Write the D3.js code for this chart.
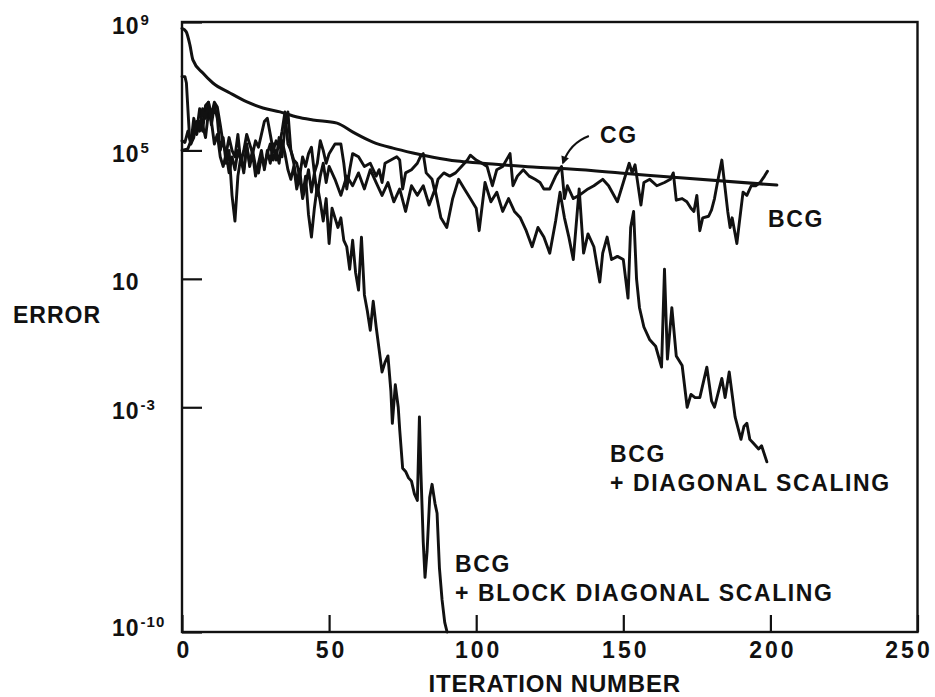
<!DOCTYPE html>
<html>
<head>
<meta charset="utf-8">
<script src="https://cdn.jsdelivr.net/npm/d3@7/dist/d3.min.js"></script>
<style>
  html, body { margin: 0; padding: 0; background: #fff; }
  svg { display: block; }
  text { font-family: "Liberation Sans", Arial, Helvetica, sans-serif; font-weight: bold; fill: #111; }
</style>
</head>
<body>
<svg id="chart" width="935" height="697"></svg>
<script>
// ---- data (iteration, log10 of error) ----
const xTickValues = [0, 50, 100, 150, 200, 250];
const yTickExponents = [9, 5, 1, -3, -10];
const yTickSup = ["9", "5", "", "-3", "-10"];

const cgPoints = [[0,8.8],[1.4,8.7],[2.7,8.28],[3.7,7.82],[7.1,7.41],[10.5,7.1],[16.3,6.79],[22.1,6.51],[27.5,6.32],[33.3,6.2],[39.1,6.04],[44.5,5.95],[52.7,5.85],[58.1,5.57],[64.9,5.26],[71.7,5.07],[78.5,4.92],[85.3,4.79],[93.5,4.67],[101.3,4.61],[119.3,4.48],[131.9,4.42],[148.9,4.3],[165.9,4.17],[202.2,3.92]];

const bcgPoints = [[0,5.0],[2,5.05],[3,5.3],[4,5.7],[5,5.5],[6,5.9],[7,5.6],[8,6.4],[9,6.5],[10,6.1],[11,6.5],[12,6.35],[13,5.8],[14,5.2],[15,4.9],[16,5.4],[17,5.0],[18,4.8],[19,5.5],[20,4.6],[21,5.0],[22,5.5],[23,5.2],[24,4.9],[25,5.3],[26,5.1],[27,5.5],[28,5.9],[29,6.0],[30,5.5],[31,5.0],[32,5.3],[33,5.1],[34,5.6],[35,6.2],[36,5.2],[37,5.0],[38,4.7],[39,4.6],[40,4.2],[41,4.8],[42,4.5],[43,4.9],[44,5.1],[45,4.3],[46,4.6],[47,5.3],[48,5.0],[49,4.6],[50,4.9],[52,5.2],[54,5.2],[55,4.6],[56,3.8],[57,4.4],[58,4.9],[60,4.8],[62,4.5],[64,4.6],[66,4.2],[67,4.4],[68,4.0],[69,4.6],[71,4.7],[73,4.8],[74,4.7],[75,3.8],[76,4.3],[78,4.4],[80,4.6],[81,4.8],[82,4.9],[83,4.3],[85,4.1],[86,3.7],[87,4.1],[89,4.3],[91,4.2],[93,4.3],[95,4.5],[97,4.7],[98,4.85],[100,4.7],[102,4.6],[103.7,4.5],[105.5,3.9],[107,4.4],[109,4.5],[111.5,4.9],[112.5,3.9],[114,4.2],[116,4.4],[118,4.2],[120,4.1],[121.7,4.0],[123,3.8],[125,3.8],[127,4.2],[129,4.5],[130,3.5],[131,3.9],[133,3.5],[135,3.6],[136.5,3.7],[138,3.8],[140,3.9],[143,4.1],[145,3.9],[148,3.4],[150,4.0],[152,4.6],[153,4.3],[154,4.55],[156,3.3],[157,4.0],[159,4.1],[161.4,3.9],[164,4.0],[166,4.1],[167,4.3],[168,3.45],[170,3.5],[171.6,3.4],[173,3.2],[174,3.1],[175,3.6],[176,2.5],[177,2.9],[179,2.95],[180,3.15],[181,3.5],[182,4.0],[183.5,4.7],[184.5,3.9],[185.5,3.1],[186.3,2.6],[187,2.9],[188.6,2.1],[189.5,2.8],[190.7,3.7],[192,3.6],[193.5,3.9],[195,3.9],[196.5,4.0],[198,4.2],[199,4.35]];

const diagPoints = [[0,5.3],[1,5.25],[2,5.6],[3,5.2],[4,6.0],[5,5.6],[6,6.3],[7,5.8],[8,5.4],[9,6.2],[10,5.9],[11,5.2],[12,5.5],[13,4.8],[14,4.5],[15,4.9],[16,4.3],[17,4.8],[18,4.4],[19,5.0],[20,4.7],[21,4.4],[22,5.1],[23,4.6],[24,5.0],[25,4.5],[26,4.3],[27,4.8],[28,4.5],[29,4.9],[30,5.2],[31,4.7],[32,5.0],[33,4.6],[34,5.3],[35,4.9],[36,4.4],[37,4.1],[38,4.5],[39,3.8],[40,4.2],[41,3.5],[42,3.9],[43,4.4],[44,3.7],[45,4.3],[46,3.6],[47,4.2],[48,4.6],[49,4.0],[50,4.5],[52,4.1],[54,3.6],[56,4.2],[58,3.9],[60,4.3],[62,3.8],[64,4.4],[66,4.0],[68,3.6],[70,4.0],[72,3.4],[74,3.8],[76,3.1],[78,3.9],[80,3.6],[82,3.9],[84,3.3],[86,3.8],[88,2.9],[90,2.6],[92,3.5],[94,4.1],[96,3.8],[98,3.5],[100,3.2],[101,2.5],[103,4.0],[105,3.4],[107,3.7],[109,3.1],[111,3.5],[113,3.1],[115,2.9],[117,2.5],[119,2.0],[121,2.6],[123,2.3],[125,1.8],[127,2.8],[128.5,3.7],[130,2.9],[131.5,2.3],[133,1.6],[135,3.8],[136.5,1.8],[138,2.4],[140,2.0],[142,0.9],[143,1.8],[144.5,2.3],[146,1.6],[148,1.7],[150,1.6],[151.6,0.4],[152.5,2.6],[153.5,3.1],[154.5,1.0],[155.5,0.1],[157,-0.5],[159,-0.9],[161,-1.1],[163,-1.75],[164,1.3],[165,-1.5],[166.5,0.1],[168,-1.4],[170,-1.7],[171.7,-3.0],[173,-2.6],[174.4,-2.7],[176,-2.7],[178.4,-1.75],[180,-2.8],[181,-3.0],[183.5,-2.1],[184.6,-2.7],[186,-1.9],[188,-3.3],[190,-4.0],[191,-3.6],[192,-3.5],[193,-4.0],[194,-4.1],[196,-4.3],[197,-4.2],[198.8,-4.7]];

const blockPoints = [[0,7.3],[1,7.3],[1.5,7.1],[2.5,5.5],[3,5.2],[4,5.4],[5,5.9],[6,5.6],[7,6.3],[8,6.0],[9,6.5],[10,5.8],[11,6.4],[12,6.0],[13,5.0],[14,5.4],[15,4.6],[16,5.0],[17,3.6],[18,2.8],[19,4.2],[20,4.8],[21,4.3],[22,5.2],[23,4.5],[24,4.9],[25,4.2],[26,4.6],[27,5.0],[28,4.4],[29,5.0],[30,4.6],[31,5.2],[32,4.7],[33,5.4],[34,4.8],[35,5.7],[36,6.2],[37,5.0],[38,4.6],[39,4.0],[40,4.4],[41,3.6],[42,4.2],[43,3.0],[44,2.3],[45,3.2],[46,3.9],[47,3.4],[48,2.8],[49,3.5],[50,2.1],[51,3.2],[52,2.9],[53,2.6],[54,2.9],[55,2.2],[56,2.0],[57,1.3],[58,2.2],[59,1.2],[60,0.65],[61,2.3],[62,0.5],[63,0.0],[64,-0.6],[65,0.3],[66,-0.5],[67,-1.2],[68,-1.9],[69,-1.6],[70,-1.4],[71,-2.5],[71.5,-3.5],[72.5,-2.3],[73.5,-3.0],[74,-3.7],[75,-4.9],[76,-5.0],[77,-5.2],[78,-5.3],[79,-5.7],[80,-5.9],[80.7,-3.3],[81.2,-5.0],[82,-7.2],[82.6,-8.3],[83.3,-7.5],[84.2,-5.8],[85,-5.4],[86,-6.0],[86.7,-6.3],[87.5,-8.0],[88.4,-9.0],[89.3,-9.7],[90.1,-10]];

// annotation anchors in data space (iteration, log10 error)
const seriesLabels = [
  { lines: ["CG"], iter: 142.1, exp: 5.23 },
  { lines: ["BCG"], iter: 199.2, exp: 2.61 },
  { lines: ["BCG", "+ DIAGONAL SCALING"], iter: 145.5, exp: -4.71 },
  { lines: ["BCG", "+ BLOCK DIAGONAL SCALING"], iter: 92.8, exp: -8.13 }
];
const cgArrow = { from: [138.3, 5.45], ctrl: [131.9, 5.23], to: [129.5, 4.61] };

// ---- layout ----
const svg = d3.select("#chart");
const mLeft = 182, mRight = 917.5, mTop = 22, mBottom = 632;

const x = d3.scaleLinear().domain([0, 250]).range([mLeft, mRight]);
const y = d3.scaleLog().domain([1e-10, 1e9]).range([mBottom, mTop]);
const p = d => [x(d[0]), y(Math.pow(10, d[1]))];

// frame
svg.append("rect")
  .attr("x", mLeft).attr("y", mTop)
  .attr("width", mRight - mLeft).attr("height", mBottom - mTop)
  .attr("fill", "none").attr("stroke", "#111").attr("stroke-width", 2.4);

// x axis (inward ticks)
const xAxis = d3.axisBottom(x).tickValues(xTickValues)
  .tickSizeInner(-17).tickSizeOuter(0).tickPadding(10).tickFormat(d3.format("d"));
const gx = svg.append("g").attr("transform", `translate(0,${mBottom})`).call(xAxis);
gx.select(".domain").remove();
gx.selectAll(".tick line").attr("stroke", "#111").attr("stroke-width", 2.2);
gx.selectAll(".tick text")
  .attr("font-family", null).attr("font-size", null)
  .style("font-size", "23px").style("letter-spacing", "3px")
  .attr("fill", "#111").attr("dx", d => d === 250 ? -9 : 2);

// y axis (inward ticks, custom labels)
const yAxis = d3.axisLeft(y).tickValues(yTickExponents.map(e => Math.pow(10, e)))
  .tickSizeInner(-20).tickSizeOuter(0).tickFormat("");
const gy = svg.append("g").attr("transform", `translate(${mLeft},0)`).call(yAxis);
gy.select(".domain").remove();
gy.selectAll(".tick line").attr("stroke", "#111").attr("stroke-width", 2.2);

yTickExponents.forEach((e, i) => {
  const v = Math.pow(10, e);
  const baseY = y(v) + (e === -10 ? 4 : 11.5);
  const t = svg.append("text").attr("x", 112).attr("y", baseY)
    .style("font-size", "23px").style("letter-spacing", "1px");
  t.append("tspan").text("10");
  if (yTickSup[i]) {
    t.append("tspan").attr("dx", 1).attr("dy", -9).style("font-size", "15px")
      .style("letter-spacing", "1px").text(yTickSup[i]);
  }
});

// axis titles
svg.append("text").attr("x", 13).attr("y", 323)
  .style("font-size", "23px").style("letter-spacing", "1px").text("ERROR");
svg.append("text").attr("x", (mLeft + mRight) / 2 + 5).attr("y", 692)
  .attr("text-anchor", "middle")
  .style("font-size", "24px").style("letter-spacing", "0.8px").text("ITERATION NUMBER");

// curves
const noisy = d3.line().x(d => p(d)[0]).y(d => p(d)[1]).curve(d3.curveLinear);
const smooth = d3.line().x(d => p(d)[0]).y(d => p(d)[1]).curve(d3.curveMonotoneX);

const plot = svg.append("g");
[bcgPoints, diagPoints, blockPoints].forEach(pts => {
  plot.append("path").attr("d", noisy(pts))
    .attr("fill", "none").attr("stroke", "#111").attr("stroke-width", 2.9)
    .attr("stroke-linejoin", "round").attr("stroke-linecap", "round");
});
plot.append("path").attr("d", smooth(cgPoints))
  .attr("fill", "none").attr("stroke", "#111").attr("stroke-width", 3)
  .attr("stroke-linecap", "round");

// series labels
seriesLabels.forEach(l => {
  const t = svg.append("text")
    .attr("x", x(l.iter)).attr("y", y(Math.pow(10, l.exp)))
    .style("font-size", "23px").style("letter-spacing", "1.6px");
  l.lines.forEach((s, i) => {
    t.append("tspan").attr("x", x(l.iter)).attr("dy", i === 0 ? 0 : 29).text(s);
  });
});

// CG arrow
svg.append("defs").append("marker")
  .attr("id", "ah").attr("viewBox", "0 0 10 10").attr("refX", 8).attr("refY", 5)
  .attr("markerWidth", 10).attr("markerHeight", 8).attr("markerUnits", "userSpaceOnUse")
  .attr("orient", "auto")
  .append("path").attr("d", "M0,0 L10,5 L0,10 Z").attr("fill", "#111");
const a0 = p(cgArrow.from), ac = p(cgArrow.ctrl), a1 = p(cgArrow.to);
svg.append("path")
  .attr("d", `M${a0[0]},${a0[1]} Q${ac[0]},${ac[1]} ${a1[0]},${a1[1]}`)
  .attr("fill", "none").attr("stroke", "#111").attr("stroke-width", 2)
  .attr("marker-end", "url(#ah)");
</script>
</body>
</html>
